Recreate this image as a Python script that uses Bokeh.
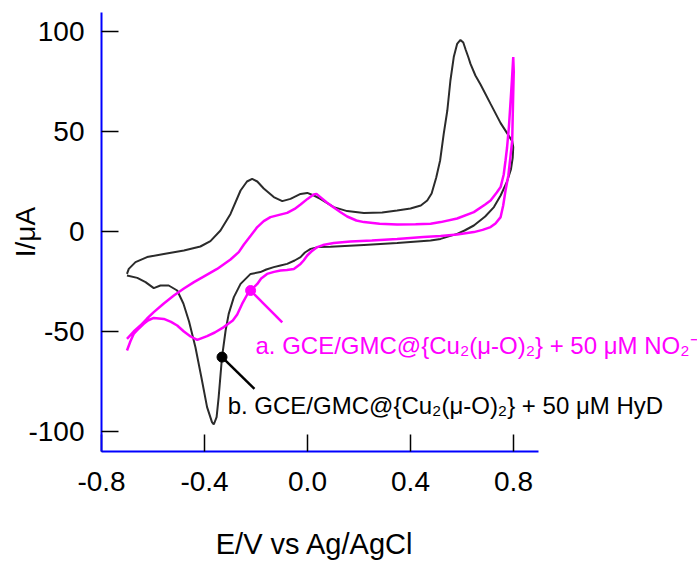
from bokeh.plotting import figure
from bokeh.models import FixedTicker, PrintfTickFormatter, Label
from bokeh.embed import file_html
from bokeh.resources import INLINE

# ---- data ----
# curve b: GCE/GMC@{Cu2(mu-O)2} + 50 uM HyD  (forward then reverse scan)
b_fwd_E = [-0.701, -0.694, -0.668, -0.623, -0.558, -0.480, -0.416, -0.377, -0.338, -0.299,
           -0.260, -0.235, -0.215, -0.195, -0.170, -0.131, -0.098, -0.066, -0.027, -0.001,
           0.025, 0.050, 0.102, 0.154, 0.219, 0.290, 0.348, 0.400, 0.440, 0.465,
           0.482, 0.500, 0.515, 0.529, 0.543, 0.555, 0.568, 0.581, 0.594, 0.605,
           0.614, 0.625, 0.633, 0.652, 0.672, 0.711, 0.750, 0.775, 0.795]
b_fwd_I = [-21.2, -18.7, -15.3, -12.8, -11.2, -9.5, -7.5, -4.8, 0.5, 8.8,
           20.5, 25.0, 26.3, 25.0, 21.5, 17.2, 15.2, 16.3, 18.8, 19.3,
           18.0, 16.3, 12.2, 10.2, 9.3, 9.5, 10.5, 11.5, 13.0, 15.5,
           19.0, 27.0, 35.5, 48.8, 60.5, 75.5, 87.2, 93.8, 95.8, 94.5,
           91.0, 87.0, 83.8, 78.0, 73.5, 63.8, 54.2, 49.2, 45.2]
b_rev_E = [0.799, 0.797, 0.790, 0.775, 0.750, 0.724, 0.690, 0.646, 0.610, 0.581,
           0.517, 0.478, 0.348, 0.219, 0.089, 0.040, 0.012, -0.010, -0.027, -0.050,
           -0.079, -0.105, -0.131, -0.160, -0.183, -0.221, -0.260, -0.286, -0.306, -0.318,
           -0.332, -0.345, -0.353, -0.364, -0.371, -0.390, -0.412, -0.435, -0.460, -0.482,
           -0.506, -0.539, -0.571, -0.597, -0.629, -0.661, -0.701]
b_rev_I = [42.2, 37.0, 31.0, 25.0, 18.0, 12.2, 7.5, 3.0, 0.5, -1.2,
           -3.7, -4.5, -5.8, -6.7, -7.6, -7.8, -8.7, -10.5, -12.8, -14.5,
           -16.2, -17.0, -17.8, -19.0, -20.3, -21.2, -26.2, -32.8, -41.2, -49.5,
           -62.8, -82.8, -92.8, -96.5, -95.3, -87.8, -73.0, -58.0, -45.0, -36.0,
           -29.5, -27.0, -27.0, -28.3, -25.3, -23.2, -22.0]

# curve a: GCE/GMC@{Cu2(mu-O)2} + 50 uM NO2-  (forward then reverse scan)
a_fwd_E = [-0.701, -0.675, -0.649, -0.623, -0.597, -0.558, -0.519, -0.480, -0.441, -0.400,
           -0.351, -0.299, -0.267, -0.247, -0.220, -0.195, -0.170, -0.144, -0.110, -0.079,
           -0.050, -0.027, 0.000, 0.024, 0.035, 0.050, 0.075, 0.102, 0.130, 0.154,
           0.190, 0.219, 0.280, 0.348, 0.420, 0.478, 0.517, 0.581, 0.646, 0.690,
           0.711, 0.735, 0.750, 0.762, 0.769, 0.775, 0.782, 0.788, 0.794, 0.799]
a_fwd_I = [-53.7, -50.0, -47.0, -43.5, -40.3, -36.0, -32.0, -28.5, -25.3, -22.3,
           -18.7, -14.0, -10.3, -6.5, -2.0, 2.2, 5.2, 7.2, 8.3, 9.3,
           11.3, 13.5, 16.3, 18.5, 18.8, 17.2, 14.5, 12.0, 9.5, 7.5,
           5.5, 4.7, 3.9, 3.5, 3.6, 3.9, 4.7, 6.5, 9.7, 13.5,
           15.5, 19.5, 22.2, 28.5, 35.5, 42.0, 52.0, 63.8, 76.0, 87.2]
a_rev_E = [0.799, 0.801, 0.798, 0.795, 0.788, 0.780, 0.769, 0.760, 0.750, 0.730,
           0.711, 0.680, 0.646, 0.581, 0.517, 0.450, 0.348, 0.250, 0.167, 0.102,
           0.060, 0.038, 0.015, -0.001, -0.015, -0.027, -0.053, -0.080, -0.105, -0.130,
           -0.157, -0.180, -0.195, -0.221, -0.234, -0.254, -0.273, -0.290, -0.325, -0.360,
           -0.390, -0.428, -0.454, -0.480, -0.506, -0.530, -0.558, -0.597, -0.620, -0.636,
           -0.655, -0.675, -0.688, -0.701]
a_rev_I = [87.2, 80.0, 63.8, 45.5, 37.2, 28.0, 20.5, 13.0, 7.2, 4.0,
           2.2, 0.8, -0.3, -1.5, -2.3, -2.7, -3.7, -4.5, -5.0, -5.8,
           -6.8, -7.8, -10.0, -12.0, -14.5, -16.2, -18.7, -19.2, -19.5, -20.2,
           -21.2, -23.5, -26.2, -29.5, -31.5, -36.2, -41.5, -44.5, -47.8, -50.5,
           -52.3, -54.2, -52.5, -50.0, -47.0, -45.2, -43.7, -43.2, -44.5, -46.2,
           -48.5, -51.2, -55.0, -59.5]

x_ticks = [-0.8, -0.4, 0.0, 0.4, 0.8]
y_ticks = [-100, -50, 0, 50, 100]

x_title = "E/V vs Ag/AgCl"
y_title = "I/\u03bcA"
label_a = "a. GCE/GMC@{Cu\u2082(\u03bc-O)\u2082} + 50 \u03bcM NO\u2082\u207b"
label_b = "b. GCE/GMC@{Cu\u2082(\u03bc-O)\u2082} + 50 \u03bcM HyD"

FONT = "Liberation Sans"
MAGENTA = "#ff00ff"
DARK = "#2b2b2b"

W, H = 697, 565
LEFT, TOP, BOTTOM_Y = 101, 12, 451
PX_PER_V = 257.5
x_lo, x_axis_hi = -0.8, 0.897
x_hi = x_lo + (W - LEFT) / PX_PER_V   # frame runs to the right edge; axis stops at 0.897

p = figure(width=W, height=H, x_range=(x_lo, x_hi), y_range=(-110, 109.5),
           output_backend="svg", toolbar_location=None,
           min_border_left=LEFT, min_border_right=0, min_border_top=TOP,
           min_border_bottom=H - BOTTOM_Y)
p.outline_line_color = None
p.xgrid.visible = False
p.ygrid.visible = False
p.background_fill_color = "white"
p.border_fill_color = "white"

for ax in (p.xaxis[0], p.yaxis[0]):
    ax.axis_line_color = "#0000ff"
    ax.axis_line_width = 2
    ax.major_tick_line_color = "black"
    ax.major_tick_line_width = 1.5
    ax.major_tick_in = 17
    ax.major_tick_out = 0
    ax.minor_tick_line_color = None
    ax.major_label_text_font = FONT
    ax.major_label_text_font_size = "28px"
    ax.major_label_text_color = "black"
    ax.axis_label_text_font = FONT
    ax.axis_label_text_font_size = "28px"
    ax.axis_label_text_font_style = "normal"
    ax.axis_label_text_color = "black"

p.xaxis.bounds = (x_lo, x_axis_hi)
p.xaxis.ticker = FixedTicker(ticks=x_ticks)
p.xaxis.formatter = PrintfTickFormatter(format="%.1f")
p.yaxis.ticker = FixedTicker(ticks=y_ticks)
p.yaxis.formatter = PrintfTickFormatter(format="%d")
p.yaxis.axis_label = y_title
# the frame is wider than the drawn x axis (room for the long labels), so the
# centred axis title is padded with no-break spaces to sit under the axis line
p.xaxis.axis_label = x_title + "\u00a0" * 21
p.xaxis.axis_label_text_font_size = "29px"
p.xaxis.major_label_standoff = 20
p.xaxis.axis_label_standoff = 34
p.yaxis.major_label_standoff = 17
p.yaxis.axis_label_standoff = -16

# curves
p.line(b_fwd_E + b_rev_E, b_fwd_I + b_rev_I, line_color=DARK, line_width=2)
p.line(a_fwd_E + a_rev_E, a_fwd_I + a_rev_I, line_color=MAGENTA, line_width=2.5)

# markers with leader lines (marker points taken from the curves)
ma = 33  # index in a_rev  (-0.221, -29.5)
mb = 30  # index in b_rev  (-0.332, -62.8)
p.segment(x0=[a_rev_E[ma]], y0=[a_rev_I[ma]], x1=[-0.098], y1=[-45.4],
          line_color=MAGENTA, line_width=2.5)
p.segment(x0=[b_rev_E[mb]], y0=[b_rev_I[mb]], x1=[-0.206], y1=[-78.7],
          line_color="black", line_width=2.5)
p.scatter([a_rev_E[ma]], [a_rev_I[ma]], size=10, color=MAGENTA)
p.scatter([b_rev_E[mb]], [b_rev_I[mb]], size=10, color="black")

p.add_layout(Label(x=-0.202, y=-57, text=label_a, text_font=FONT, text_font_size="24px",
                   text_color=MAGENTA, text_baseline="alphabetic"))
p.add_layout(Label(x=-0.31, y=-87, text=label_b, text_font=FONT, text_font_size="24px",
                   text_color="black", text_baseline="alphabetic"))

open("out.html", "w").write(file_html(p, INLINE))
